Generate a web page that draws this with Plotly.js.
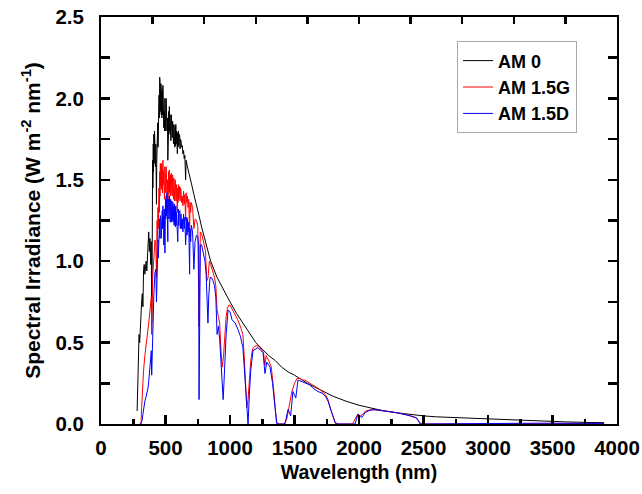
<!DOCTYPE html>
<html>
<head>
<meta charset="utf-8">
<script src="https://cdn.plot.ly/plotly-3.0.1.min.js"></script>
<style>html,body{margin:0;padding:0;background:#fff;}#chart{width:642px;height:494px;}</style>
</head>
<body>
<div id="chart"></div>
<script>
// AM 0 (extraterrestrial)
var wlAM0 = [280,285,290,295,300,305,310,315,320,325,330,335,340,345,350,355,360,365,370,375,380,385,390,393,396,
  400,402,405,407,410,412,415,417,420,422,425,427,430,432,435,437,440,442,445,447,450,452,455,457,460,462,465,467,470,472,475,477,480,482,485,487,490,492,495,497,
  500,502,505,507,510,512,515,518,520,522,525,527,530,532,535,537,540,542,545,547,550,552,555,557,560,562,565,567,570,572,575,577,580,582,585,587,590,592,595,597,
  600,603,606,610,613,616,620,625,630,635,640,645,650,656,660,670,680,690,700,
  720,740,760,780,800,850,900,950,1000,1050,1100,1150,1200,1250,1300,1350,1400,1450,1500,1600,1700,1800,1900,2000,2100,2200,2300,2400,2500,2600,2800,3000,3200,3400,3600,3800,3900];
var irrAM0 = [0.08,0.2,0.45,0.55,0.5,0.62,0.68,0.75,0.8,0.72,0.95,0.98,0.92,0.97,1.0,0.94,1.02,1.1,1.18,1.06,1.14,0.98,1.12,0.62,0.85,
  1.62,1.45,1.72,1.55,1.78,1.6,1.8,1.62,1.76,1.58,1.72,1.5,1.35,1.6,1.8,1.66,1.85,1.7,1.95,1.8,2.02,1.88,2.13,1.95,2.07,1.92,2.09,1.9,2.04,1.88,2.06,1.9,2.08,1.9,1.98,1.82,1.92,1.8,2.0,1.84,
  1.96,1.8,2.0,1.84,1.94,1.8,1.88,1.62,1.86,1.74,1.92,1.78,1.95,1.8,1.9,1.76,1.86,1.74,1.9,1.76,1.88,1.76,1.86,1.74,1.86,1.72,1.84,1.72,1.82,1.7,1.83,1.71,1.84,1.72,1.8,1.68,1.74,1.66,1.79,1.7,
  1.8,1.71,1.78,1.77,1.69,1.75,1.74,1.7,1.71,1.66,1.68,1.63,1.65,1.5,1.62,1.58,1.55,1.51,1.48,
  1.41,1.35,1.28,1.21,1.15,1.0,0.9,0.82,0.75,0.68,0.62,0.56,0.5,0.46,0.42,0.39,0.35,0.32,0.3,0.25,0.21,0.17,0.14,0.115,0.097,0.08,0.068,0.058,0.05,0.044,0.037,0.032,0.024,0.018,0.013,0.009,0.008];

// AM 1.5G (global tilt)
var wlAM15G = [305,310,315,320,326,330,340,350,356,360,370,380,390,393,396,400,410,418,425,430,
  435,437,442,444,450,452,455,457,460,462,465,467,470,472,475,477,480,482,485,487,490,492,495,497,500,502,505,507,510,512,
  515,518,520,522,525,527,530,532,535,537,540,542,545,547,550,552,555,557,560,562,565,567,570,572,575,577,580,582,585,587,
  590,592,595,597,600,603,606,610,613,616,620,625,630,635,640,645,650,656,660,665,670,675,680,687,690,695,700,
  710,720,730,740,750,760,765,770,780,790,800,810,820,830,840,850,860,870,880,890,900,910,920,930,940,950,960,970,980,990,
  1000,1020,1040,1060,1080,1100,1110,1120,1130,1140,1150,1160,1170,1180,1200,1220,1240,1260,1270,1280,1300,1320,1340,1350,1360,1380,1400,1420,1440,1460,
  1480,1500,1520,1540,1560,1580,1600,1650,1700,1740,1760,1780,1800,1820,1900,1950,1970,1990,2010,2030,2050,2080,2100,2150,2200,2250,2300,2350,2400,2440,
  2460,2480,2500,3000,3200,3500,3900];
var irrAM15G = [0.0,0.0,0.1,0.2,0.29,0.33,0.42,0.48,0.51,0.55,0.62,0.7,0.78,0.55,0.7,0.9,1.02,1.13,1.1,0.9,
  1.25,1.12,1.33,1.2,1.45,1.3,1.55,1.4,1.6,1.46,1.58,1.44,1.6,1.45,1.56,1.42,1.62,1.47,1.55,1.4,1.5,1.38,1.58,1.44,1.56,1.42,1.58,1.44,1.54,1.42,
  1.5,1.3,1.5,1.4,1.55,1.42,1.56,1.43,1.52,1.4,1.53,1.41,1.54,1.42,1.52,1.4,1.53,1.41,1.5,1.38,1.51,1.39,1.48,1.37,1.5,1.38,1.49,1.37,1.47,1.36,
  1.38,1.3,1.45,1.36,1.47,1.38,1.46,1.46,1.37,1.45,1.44,1.36,1.4,1.34,1.43,1.35,1.41,1.25,1.42,1.36,1.4,1.33,1.38,1.15,1.36,1.3,1.36,
  1.33,1.2,1.26,1.25,1.22,0.6,0.9,1.18,1.17,1.14,1.1,1.06,0.88,0.9,1.0,0.98,0.95,0.93,0.9,0.85,0.7,0.66,0.62,0.45,0.35,0.42,0.58,0.66,0.71,0.73,
  0.73,0.7,0.67,0.64,0.6,0.55,0.42,0.25,0.1,0.15,0.28,0.38,0.44,0.47,0.48,0.48,0.46,0.44,0.36,0.42,0.39,0.35,0.2,0.08,0.01,0.0,0.0,0.0,0.03,0.12,
  0.2,0.25,0.28,0.28,0.27,0.27,0.26,0.24,0.21,0.18,0.15,0.09,0.04,0.0,0.0,0.0,0.03,0.06,0.05,0.06,0.08,0.085,0.088,0.085,0.08,0.075,0.068,0.06,0.05,0.04,
  0.02,0.003,0.0,0.0,0.003,0.004,0.003];

// AM 1.5D (direct + circumsolar)
var wlAM15D = [300,305,310,318,325,330,340,350,360,364,370,375,380,385,390,393,396,400,405,410,418,425,430,435,
  442,444,450,452,455,457,460,462,465,467,470,472,475,477,480,482,485,487,490,492,496,500,502,505,507,511,513,515,518,520,
  522,525,527,530,532,535,537,540,542,545,547,550,552,558,560,565,567,570,572,575,577,580,582,585,590,595,600,603,606,612,
  615,620,625,630,635,640,645,650,656,665,667,670,675,680,687,690,695,700,
  710,720,729,740,750,757,760,763,767,770,780,790,800,806,815,822,829,835,845,855,868,880,890,900,910,920,930,940,947,953,
  960,970,985,1000,1016,1040,1062,1080,1100,1110,1120,1132,1140,1150,1160,1178,1200,1217,1240,1256,1271,1285,1310,1330,1349,1364,1380,1400,1426,1450,
  1470,1488,1510,1527,1560,1597,1620,1643,1680,1713,1740,1760,1791,1814,1840,1900,1969,1992,2023,2047,2085,2120,2160,2200,2250,2300,2350,2400,2450,2473,
  2500,2800,3100,3200,3400,3600,3800,3900];
var irrAM15D = [0,0,0.005,0.02,0.06,0.1,0.14,0.17,0.2,0.22,0.26,0.3,0.35,0.4,0.45,0.3,0.42,0.6,0.7,0.8,0.93,0.95,0.75,1.05,
  1.13,1.02,1.2,1.1,1.26,1.14,1.28,1.16,1.25,1.14,1.3,1.18,1.31,1.2,1.34,1.22,1.28,1.1,1.32,1.2,1.05,1.38,1.26,1.4,1.28,1.42,1.3,1.36,1.12,1.37,
  1.26,1.38,1.26,1.4,1.28,1.36,1.24,1.38,1.26,1.36,1.24,1.37,1.25,1.36,1.24,1.34,1.22,1.35,1.23,1.33,1.21,1.34,1.22,1.3,1.18,1.12,1.32,1.22,1.3,1.31,
  1.2,1.29,1.2,1.26,1.18,1.29,1.2,1.27,1.1,1.27,1.16,1.26,1.18,1.24,0.92,1.2,1.12,1.22,
  1.18,0.95,1.12,1.16,1.15,1.1,0.15,0.4,0.9,1.1,1.1,1.06,1.04,1.0,0.92,0.7,0.62,0.78,0.9,0.9,0.88,0.85,0.78,0.55,0.6,0.52,0.35,0.2,0.15,0.25,
  0.4,0.55,0.7,0.69,0.64,0.62,0.58,0.54,0.47,0.35,0.2,0.05,0.0,0.18,0.32,0.45,0.46,0.47,0.45,0.44,0.31,0.38,0.35,0.25,0.1,0.0,0,0,0.0,0.09,
  0.05,0.2,0.16,0.27,0.26,0.25,0.24,0.22,0.2,0.19,0.17,0.14,0.07,0.01,0.0,0,0,0.06,0.04,0.07,0.085,0.088,0.085,0.08,0.075,0.068,0.06,0.05,0.035,0.0,
  0,0,0.0,0.004,0.005,0.004,0.005,0.004];

var seriesNames = ['AM 0', 'AM 1.5G', 'AM 1.5D'];
var xTickVals = [0, 500, 1000, 1500, 2000, 2500, 3000, 3500, 4000];
var yTickVals = [0, 0.5, 1.0, 1.5, 2.0, 2.5];

var FONT = 'Liberation Sans, Arial, sans-serif';
var TF = {family: FONT, size: 20.5, color: '#000', weight: 'bold'};

var traces = [
  {x: wlAM0, y: irrAM0, name: seriesNames[0], type: 'scatter', mode: 'lines', line: {color: '#000000', width: 1}},
  {x: wlAM15G, y: irrAM15G, name: seriesNames[1], type: 'scatter', mode: 'lines', line: {color: '#ff0000', width: 1}},
  {x: wlAM15D, y: irrAM15D, name: seriesNames[2], type: 'scatter', mode: 'lines', line: {color: '#0000ff', width: 1}},
  {x: [], y: [], xaxis: 'x2', yaxis: 'y', showlegend: false, hoverinfo: 'skip', type: 'scatter', mode: 'lines'}
];

var layout = {
  width: 642, height: 494,
  margin: {l: 101, r: 25, t: 17, b: 70},
  paper_bgcolor: '#ffffff', plot_bgcolor: '#ffffff',
  showlegend: true,
  font: {family: FONT, color: '#000'},
  xaxis: {
    range: [0, 4000], tickvals: xTickVals, ticktext: xTickVals.map(String),
    ticks: 'inside', ticklen: 9, tickwidth: 2.5, tickcolor: '#000',
    minor: {dtick: 250, tick0: 0, ticks: 'inside', ticklen: 5, tickwidth: 2.5, tickcolor: '#000', showgrid: false},
    showline: true, linewidth: 2, linecolor: '#000', mirror: true,
    showgrid: false, zeroline: false, ticklabelstandoff: 4, layer: 'above traces',
    tickfont: TF,
    title: {text: 'Wavelength (nm)', standoff: 8, font: {family: FONT, size: 19.5, color: '#000', weight: 'bold'}}
  },
  xaxis2: {
    overlaying: 'x', side: 'top', range: [0, 4000], dtick: 400, tick0: 0,
    ticks: 'inside', ticklen: 7, tickwidth: 2.5, tickcolor: '#000',
    showticklabels: false, showline: false, showgrid: false, zeroline: false, layer: 'above traces'
  },
  yaxis: {
    range: [0, 2.5], tickvals: yTickVals, ticktext: yTickVals.map(function (v) { return v.toFixed(1); }),
    ticks: 'inside', ticklen: 9, tickwidth: 2.5, tickcolor: '#000',
    minor: {dtick: 0.25, tick0: 0, ticks: 'inside', ticklen: 5, tickwidth: 2.5, tickcolor: '#000', showgrid: false},
    showline: true, linewidth: 2, linecolor: '#000', mirror: 'allticks',
    showgrid: false, zeroline: false, ticklabelstandoff: 11, layer: 'above traces',
    tickfont: TF,
    title: {text: 'Spectral Irradiance (W m<sup>-2</sup> nm<sup>-1</sup>)', standoff: 9, font: {family: FONT, size: 21, color: '#000', weight: 'bold'}}
  },
  legend: {
    x: 0.69, y: 0.94, xanchor: 'left', yanchor: 'top',
    bgcolor: '#ffffff', bordercolor: '#a8a8a8', borderwidth: 1,
    font: {family: FONT, size: 18, color: '#000', weight: 'bold'},
    tracegroupgap: 0
  }
};

Plotly.newPlot('chart', traces, layout, {displayModeBar: false, staticPlot: true});
</script>
</body>
</html>
